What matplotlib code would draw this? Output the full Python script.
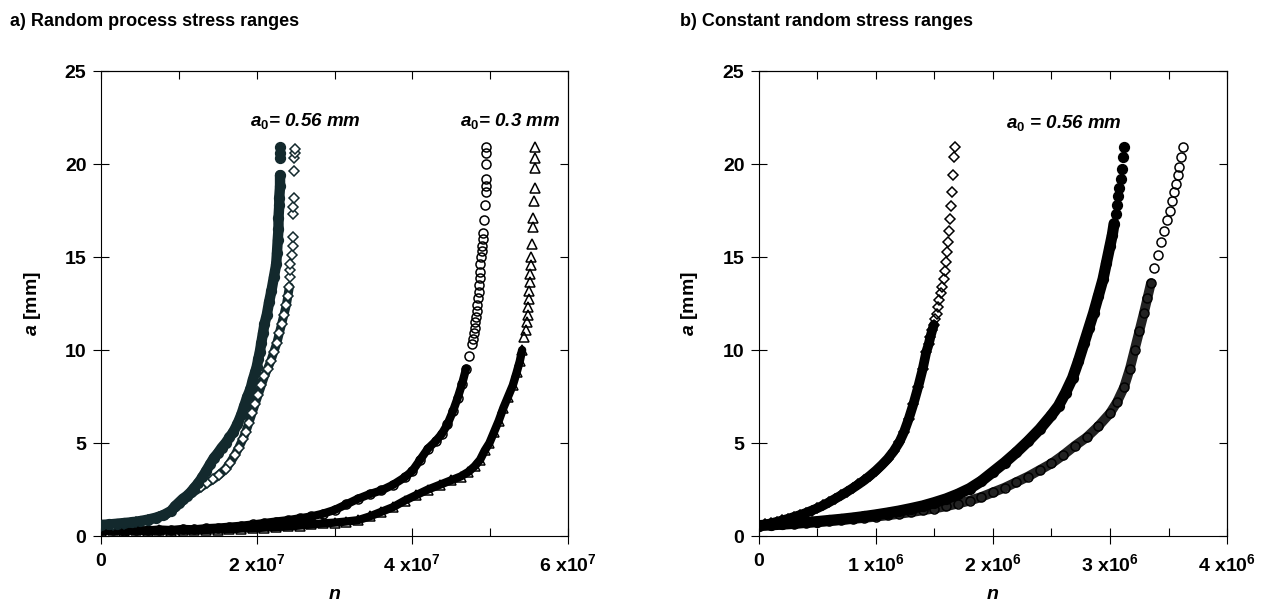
import matplotlib
matplotlib.use("Agg")
import matplotlib.pyplot as plt

plt.rcParams['font.family'] = ['Liberation Sans', 'DejaVu Sans']
plt.rcParams['mathtext.fontset'] = 'custom'
plt.rcParams['mathtext.rm'] = 'Liberation Sans:bold'
plt.rcParams['mathtext.it'] = 'Liberation Sans:italic:bold'
plt.rcParams['mathtext.bf'] = 'Liberation Sans:bold'

# ---- panel a) random process, n in units of 1e7, a in mm ----
fill_056 = [(0, 0.6), (0.1, 0.62), (0.2, 0.66), (0.3, 0.7), (0.4, 0.74), (0.5, 0.8), (0.6, 0.88),
            (0.7, 0.98), (0.8, 1.12), (0.9, 1.35), (0.95, 1.6), (1.0, 1.8), (1.05, 2.0), (1.1, 2.15),
            (1.15, 2.35), (1.2, 2.6), (1.25, 2.85), (1.3, 3.15), (1.35, 3.5), (1.4, 3.85), (1.45, 4.2),
            (1.5, 4.45), (1.55, 4.75), (1.6, 5.0), (1.65, 5.3), (1.7, 5.6), (1.75, 6.0), (1.8, 6.5),
            (1.84, 7.0), (1.88, 7.5), (1.92, 7.9), (1.95, 8.4), (1.98, 8.8), (2.0, 9.1), (2.02, 9.5),
            (2.04, 9.9), (2.06, 10.4), (2.08, 10.9), (2.1, 11.4), (2.13, 11.9), (2.16, 12.6), (2.19, 13.2),
            (2.22, 13.9), (2.25, 14.6), (2.26, 15.2), (2.27, 15.9), (2.28, 16.5), (2.28, 17.1), (2.29, 17.8),
            (2.29, 18.2), (2.3, 18.8), (2.3, 19.4), (2.3, 20.3), (2.3, 20.6), (2.3, 20.9)]
diam_056 = [(0, 0.55), (0.15, 0.6), (0.3, 0.66), (0.45, 0.74), (0.6, 0.86), (0.75, 1.02), (0.85, 1.2),
            (0.95, 1.5), (1.05, 1.9), (1.12, 2.15), (1.2, 2.4), (1.28, 2.62), (1.36, 2.85), (1.44, 3.05),
            (1.52, 3.3), (1.6, 3.6), (1.66, 3.95), (1.72, 4.35), (1.77, 4.75), (1.82, 5.2), (1.86, 5.6),
            (1.9, 6.1), (1.94, 6.6), (1.98, 7.1), (2.02, 7.6), (2.06, 8.1), (2.1, 8.6), (2.14, 9.0),
            (2.18, 9.4), (2.22, 9.9), (2.26, 10.4), (2.29, 10.9), (2.32, 11.4), (2.35, 11.9), (2.38, 12.4),
            (2.4, 12.9), (2.42, 13.4), (2.43, 13.9), (2.43, 14.3), (2.43, 14.6), (2.45, 15.1), (2.46, 15.6),
            (2.46, 16.1), (2.47, 17.3), (2.47, 17.7), (2.48, 18.2), (2.48, 19.6), (2.48, 20.3), (2.49, 20.6),
            (2.49, 20.8)]
circ_030 = [(0, 0.3), (0.15, 0.32), (0.3, 0.28), (0.45, 0.33), (0.6, 0.3), (0.75, 0.35), (0.9, 0.32),
            (1.05, 0.38), (1.2, 0.36), (1.35, 0.42), (1.5, 0.45), (1.65, 0.5), (1.8, 0.55), (1.95, 0.62),
            (2.1, 0.7), (2.25, 0.78), (2.4, 0.85), (2.55, 0.95), (2.7, 1.05), (2.85, 1.2), (3.0, 1.4),
            (3.15, 1.7), (3.3, 2.0), (3.45, 2.25), (3.6, 2.45), (3.75, 2.75), (3.9, 3.15), (4.0, 3.5),
            (4.1, 4.1), (4.2, 4.7), (4.3, 5.1), (4.38, 5.5), (4.45, 6.0), (4.52, 6.7), (4.58, 7.4),
            (4.64, 8.2), (4.69, 9.0), (4.73, 9.7), (4.76, 10.3), (4.775, 10.6), (4.79, 10.9), (4.8, 11.2),
            (4.81, 11.5), (4.82, 11.8), (4.83, 12.1), (4.835, 12.4), (4.84, 12.8), (4.85, 13.1),
            (4.86, 13.5), (4.865, 13.85), (4.87, 14.2), (4.875, 14.6), (4.88, 15.0), (4.89, 15.3),
            (4.9, 15.6), (4.905, 15.95), (4.91, 16.3), (4.92, 17.0), (4.93, 17.8), (4.94, 18.5),
            (4.94, 18.8), (4.95, 19.2), (4.95, 20.0), (4.94, 20.6), (4.94, 20.9)]
tri_030 = [(0, 0.25), (0.15, 0.3), (0.3, 0.27), (0.45, 0.3), (0.6, 0.26), (0.75, 0.3), (0.9, 0.28),
           (1.05, 0.32), (1.2, 0.3), (1.35, 0.33), (1.5, 0.35), (1.65, 0.36), (1.8, 0.4), (1.95, 0.42),
           (2.1, 0.45), (2.25, 0.48), (2.4, 0.52), (2.55, 0.56), (2.7, 0.62), (2.85, 0.68), (3.0, 0.72),
           (3.15, 0.78), (3.3, 0.85), (3.45, 1.05), (3.6, 1.3), (3.75, 1.55), (3.9, 1.9), (4.05, 2.2),
           (4.2, 2.5), (4.35, 2.75), (4.5, 3.0), (4.62, 3.2), (4.72, 3.45), (4.8, 3.75), (4.87, 4.1),
           (4.93, 4.6), (4.99, 5.0), (5.05, 5.6), (5.11, 6.2), (5.17, 6.9), (5.23, 7.5), (5.29, 8.1),
           (5.34, 8.8), (5.38, 9.4), (5.41, 10.0), (5.44, 10.7), (5.455, 11.1), (5.47, 11.5),
           (5.48, 11.9), (5.49, 12.3), (5.495, 12.75), (5.5, 13.2), (5.505, 13.65), (5.51, 14.1),
           (5.52, 14.55), (5.53, 15.0), (5.54, 15.7), (5.55, 16.6), (5.55, 17.1), (5.56, 18.0), (5.57, 18.7),
           (5.58, 19.8), (5.58, 20.3), (5.58, 20.9)]

# ---- panel b) constant random stress ranges, n in units of 1e6 ----
diam_b = [(0, 0.56), (0.05, 0.62), (0.1, 0.68), (0.15, 0.76), (0.2, 0.84), (0.25, 0.93), (0.3, 1.03),
          (0.35, 1.13), (0.4, 1.24), (0.45, 1.37), (0.5, 1.5), (0.55, 1.65), (0.6, 1.82), (0.65, 2.0),
          (0.7, 2.18), (0.75, 2.37), (0.8, 2.57), (0.85, 2.78), (0.9, 3.0), (0.95, 3.25), (1.0, 3.52),
          (1.05, 3.82), (1.1, 4.15), (1.15, 4.55), (1.2, 5.05), (1.24, 5.6), (1.28, 6.3), (1.32, 7.1),
          (1.36, 8.0), (1.4, 9.0), (1.43, 9.9), (1.45, 10.3), (1.465, 10.7), (1.48, 11.05), (1.495, 11.35),
          (1.507, 11.65), (1.518, 11.96), (1.53, 12.32), (1.542, 12.68), (1.554, 13.04), (1.566, 13.4),
          (1.578, 13.8), (1.587, 14.25), (1.596, 14.75), (1.604, 15.27), (1.612, 15.8), (1.621, 16.4),
          (1.63, 17.05), (1.639, 17.75), (1.648, 18.5), (1.658, 19.4), (1.67, 20.36), (1.677, 20.9)]
fill_b = [(0, 0.56), (0.1, 0.6), (0.2, 0.64), (0.3, 0.68), (0.4, 0.73), (0.5, 0.78), (0.6, 0.84),
          (0.7, 0.9), (0.8, 0.97), (0.9, 1.05), (1.0, 1.14), (1.1, 1.24), (1.2, 1.35), (1.3, 1.48),
          (1.4, 1.62), (1.5, 1.8), (1.6, 2.0), (1.7, 2.25), (1.8, 2.55), (1.9, 2.95), (2.0, 3.45),
          (2.1, 3.95), (2.2, 4.5), (2.3, 5.1), (2.4, 5.75), (2.5, 6.5), (2.56, 7.0), (2.62, 7.7),
          (2.68, 8.5), (2.73, 9.4), (2.78, 10.4), (2.82, 11.2), (2.86, 12.0), (2.9, 12.9), (2.94, 13.8),
          (2.97, 14.7), (3.0, 15.6), (3.02, 16.2), (3.035, 16.8), (3.048, 17.3), (3.06, 17.82),
          (3.07, 18.27), (3.08, 18.71), (3.09, 19.2), (3.1, 19.73), (3.11, 20.36), (3.118, 20.9)]
circ_b = [(0, 0.56), (0.1, 0.59), (0.2, 0.63), (0.3, 0.67), (0.4, 0.71), (0.5, 0.75), (0.6, 0.8),
          (0.7, 0.85), (0.8, 0.91), (0.9, 0.97), (1.0, 1.04), (1.1, 1.11), (1.2, 1.19), (1.3, 1.28),
          (1.4, 1.38), (1.5, 1.48), (1.6, 1.6), (1.7, 1.74), (1.8, 1.9), (1.9, 2.1), (2.0, 2.35),
          (2.1, 2.6), (2.2, 2.9), (2.3, 3.2), (2.4, 3.55), (2.5, 3.9), (2.6, 4.35), (2.7, 4.85),
          (2.8, 5.3), (2.9, 5.9), (3.0, 6.6), (3.06, 7.2), (3.12, 8.0), (3.17, 9.0), (3.21, 10.0),
          (3.25, 11.0), (3.29, 12.0), (3.32, 12.8), (3.35, 13.6), (3.38, 14.4), (3.41, 15.1),
          (3.44, 15.8), (3.465, 16.4), (3.49, 17.0), (3.51, 17.5), (3.53, 18.0), (3.548, 18.5),
          (3.563, 18.95), (3.578, 19.4), (3.593, 19.86), (3.607, 20.36), (3.62, 20.9)]

xticks_a = [0, 2, 4, 6]
xlabels_a = ['0', '2 x10$^{\\mathbf{7}}$', '4 x10$^{\\mathbf{7}}$', '6 x10$^{\\mathbf{7}}$']
xticks_b = [0, 1, 2, 3, 4]
xlabels_b = ['0', '1 x10$^{\\mathbf{6}}$', '2 x10$^{\\mathbf{6}}$', '3 x10$^{\\mathbf{6}}$', '4 x10$^{\\mathbf{6}}$']
yticks = [0, 5, 10, 15, 20, 25]

TEAL = '#13292d'


def draw(ax, pts, marker, color, face, ms, band_to=None, band_lw=5, band_color=None):
    n = [p[0] for p in pts]
    a = [p[1] for p in pts]
    if band_to is not None:
        nb = [p[0] for p in pts if p[1] <= band_to]
        ab = [p[1] for p in pts if p[1] <= band_to]
        ax.plot(nb, ab, '-', color=band_color or color, lw=band_lw, solid_capstyle='round', zorder=2)
    ax.plot(n, a, linestyle='none', marker=marker, ms=ms, mfc=face, mec=color, mew=1.1, zorder=3)


def style(ax, xmax, xt, xl, minor_step):
    ax.set_xlim(0, xmax)
    ax.set_ylim(0, 25)
    ax.set_xticks(xt)
    ax.set_xticklabels(xl)
    minors = [i * minor_step for i in range(int(round(xmax / minor_step)) + 1)]
    ax.set_xticks([m for m in minors if m not in xt], minor=True)
    ax.set_yticks(yticks)
    ax.set_yticklabels([str(v) for v in yticks])
    ax.tick_params(axis='y', direction='inout', length=11, width=0.8, pad=5, labelsize=14)
    ax.tick_params(axis='x', which='major', direction='inout', length=11, width=0.8, pad=7, labelsize=14)
    ax.tick_params(axis='x', which='minor', direction='in', length=6, width=0.8)
    for lab in ax.get_xticklabels() + ax.get_yticklabels():
        lab.set_fontweight('bold')
    top = ax.secondary_xaxis('top')
    top.set_xticks(minors)
    top.tick_params(direction='in', length=6, width=0.8, labeltop=False)
    right = ax.secondary_yaxis('right')
    right.set_yticks(yticks)
    right.tick_params(direction='in', length=6, width=0.8, labelright=False)
    for sp in ax.spines.values():
        sp.set_linewidth(0.8)
    ax.set_xlabel('$n$', fontsize=14, fontweight='bold')
    ax.set_ylabel('$a$ [mm]', fontsize=14, fontweight='bold')
    ax.xaxis.set_label_coords(0.5, -0.108)
    ax.yaxis.set_label_coords(-0.125, 0.5)


fig = plt.figure(figsize=(12.66, 6.05), dpi=100)
ax1 = fig.add_axes([0.0798, 0.114, 0.3689, 0.7686])
ax2 = fig.add_axes([0.5995, 0.114, 0.3697, 0.7686])

draw(ax1, circ_030, 'o', 'black', 'none', 6.5, band_to=9.0, band_lw=6)
draw(ax1, tri_030, '^', 'black', 'none', 6.5, band_to=10.0, band_lw=6)
draw(ax1, diam_056, 'D', TEAL, 'white', 5, band_to=13.5, band_lw=6.5)
draw(ax1, fill_056, 'o', TEAL, TEAL, 7, band_to=19.5, band_lw=7.5)
style(ax1, 6, xticks_a, xlabels_a, 1)
ax1.text(1.92, 22.3, '$a_0$= 0.56 mm', fontsize=13.5, fontweight='bold', fontstyle='italic', va='center')
ax1.text(4.61, 22.3, '$a_0$= 0.3 mm', fontsize=13.5, fontweight='bold', fontstyle='italic', va='center')

draw(ax2, circ_b, 'o', 'black', 'none', 6.5, band_to=14, band_lw=7, band_color='#222222')
draw(ax2, fill_b, 'o', 'black', 'black', 7, band_to=17, band_lw=8)
draw(ax2, diam_b, 'D', 'black', 'none', 5, band_to=11.5, band_lw=7)
style(ax2, 4, xticks_b, xlabels_b, 0.5)
ax2.text(2.11, 22.2, '$a_0$ = 0.56 mm', fontsize=13.5, fontweight='bold', fontstyle='italic', va='center')

fig.text(10 / 1266, 1 - 21 / 605, 'a) Random process stress ranges', fontsize=13, fontweight='bold', va='center')
fig.text(680 / 1266, 1 - 21 / 605, 'b) Constant random stress ranges', fontsize=13, fontweight='bold', va='center')

fig.savefig('out.png', dpi=100)
